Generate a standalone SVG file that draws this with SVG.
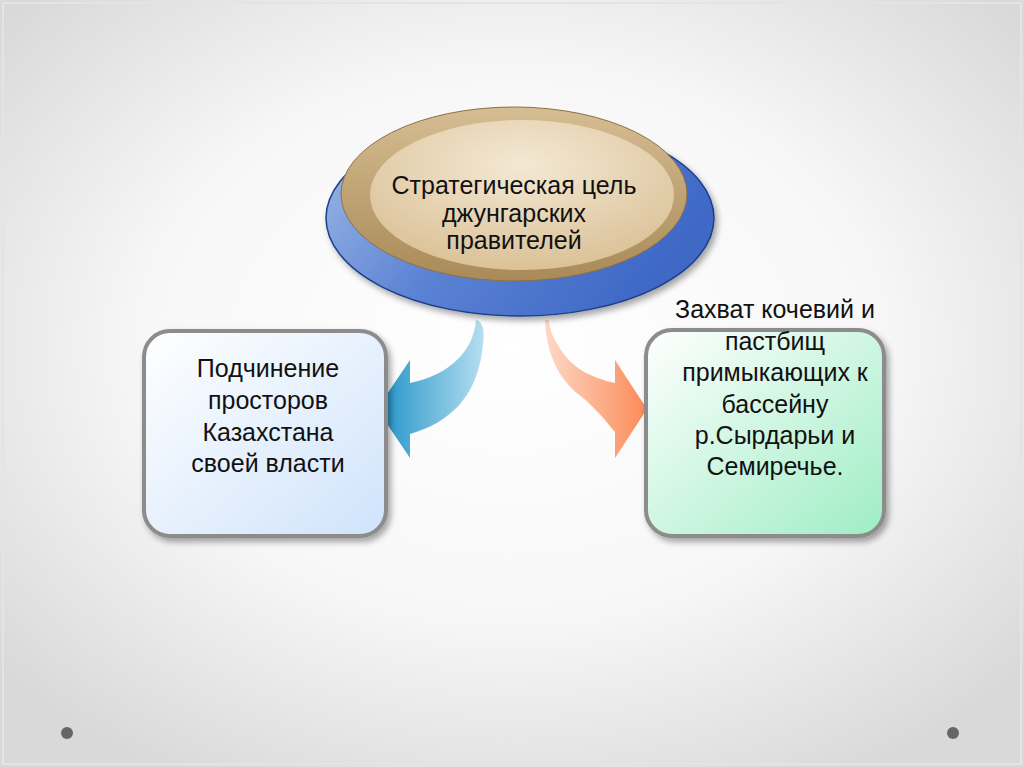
<svg xmlns="http://www.w3.org/2000/svg" width="1024" height="767" viewBox="0 0 1024 767">
<defs>
<radialGradient id="bg" cx="0.5" cy="0.45" r="0.65">
<stop offset="0" stop-color="#ffffff"/>
<stop offset="0.55" stop-color="#f7f7f7"/>
<stop offset="1" stop-color="#d9d9d9"/>
</radialGradient>
<linearGradient id="blueDisc" x1="0" y1="0" x2="1" y2="0.4">
<stop offset="0" stop-color="#a3bde6"/>
<stop offset="0.5" stop-color="#5b82d4"/>
<stop offset="1" stop-color="#3f69c6"/>
</linearGradient>
<linearGradient id="tanRim" x1="0" y1="0" x2="0" y2="1">
<stop offset="0" stop-color="#d6bd92"/>
<stop offset="1" stop-color="#a98a58"/>
</linearGradient>
<radialGradient id="tanTop" cx="0.5" cy="0.3" r="0.75">
<stop offset="0" stop-color="#f4e8d4"/>
<stop offset="1" stop-color="#d9bf93"/>
</radialGradient>
<linearGradient id="leftFill" x1="0" y1="0" x2="1" y2="1">
<stop offset="0" stop-color="#ffffff"/>
<stop offset="1" stop-color="#cfe3fb"/>
</linearGradient>
<linearGradient id="rightFill" x1="0" y1="0" x2="1" y2="1">
<stop offset="0" stop-color="#ffffff"/>
<stop offset="1" stop-color="#9eedc4"/>
</linearGradient>
<linearGradient id="blueArrow" x1="0" y1="0" x2="1" y2="0">
<stop offset="0" stop-color="#1f93c9"/>
<stop offset="1" stop-color="#b6def0"/>
</linearGradient>
<linearGradient id="orangeArrow" x1="0" y1="0" x2="1" y2="0">
<stop offset="0" stop-color="#fdd9c6"/>
<stop offset="1" stop-color="#fb8a57"/>
</linearGradient>
<filter id="sh" x="-10%" y="-10%" width="130%" height="130%">
<feGaussianBlur in="SourceAlpha" stdDeviation="3"/>
<feOffset dx="3" dy="4"/>
<feComponentTransfer><feFuncA type="linear" slope="0.35"/></feComponentTransfer>
<feMerge><feMergeNode/><feMergeNode in="SourceGraphic"/></feMerge>
</filter>
</defs>
<style>
.t{font-family:"Liberation Sans",Arial,sans-serif;fill:#111;text-anchor:middle}
.box{stroke:#8c8c8c;stroke-width:4}
.dot{fill:#666}
</style>
<rect x="0" y="0" width="1024" height="767" fill="url(#bg)"/>
<rect x="3" y="3" width="1018" height="761" fill="none" stroke="#e4e4e4" stroke-width="2"/>
<circle class="dot" cx="67" cy="733" r="6"/>
<circle class="dot" cx="953" cy="733" r="6"/>

<g id="connectors">
<path d="M476,320 C486,322 484,340 482,352 C476,395 452,422 410,434 L410,458 L377,409 L410,360 L410,383 C450,375 474,350 476,320 Z" fill="url(#blueArrow)"/>
<path d="M545,320 C546,352 558,378 578,394 C594,406 605,420 615,432 L615,458 L647,409 L615,360 L615,383 C592,378 570,368 558,345 C551,335 549,325 549,320 Z" fill="url(#orangeArrow)"/>
</g>

<g id="goal">
<ellipse cx="520" cy="218" rx="194" ry="98" fill="url(#blueDisc)" stroke="#1d3f8a" stroke-width="1.5" filter="url(#sh)"/>
<ellipse cx="514" cy="194" rx="173" ry="87" fill="url(#tanRim)" stroke="#8d7045" stroke-width="1"/>
<ellipse cx="522" cy="195" rx="152" ry="75" fill="url(#tanTop)"/>
<text class="t" font-size="25"><tspan x="514" y="194">Стратегическая цель</tspan><tspan x="514" y="222">джунгарских</tspan><tspan x="514" y="249">правителей</tspan></text>
</g>

<g id="left">
<rect class="box" x="144" y="331" width="242" height="205" rx="26" fill="url(#leftFill)" filter="url(#sh)"/>
<text class="t" font-size="25"><tspan x="268" y="377">Подчинение</tspan><tspan x="268" y="409">просторов</tspan><tspan x="268" y="441">Казахстана</tspan><tspan x="268" y="472">своей власти</tspan></text>
</g>

<g id="right">
<rect class="box" x="646" y="330" width="238" height="206" rx="26" fill="url(#rightFill)" filter="url(#sh)"/>
<text class="t" font-size="25"><tspan x="775" y="318">Захват кочевий и</tspan><tspan x="775" y="350">пастбищ</tspan><tspan x="775" y="381">примыкающих к</tspan><tspan x="775" y="413">бассейну</tspan><tspan x="775" y="444">р.Сырдарьи и</tspan><tspan x="775" y="475">Семиречье.</tspan></text>
</g>
</svg>
